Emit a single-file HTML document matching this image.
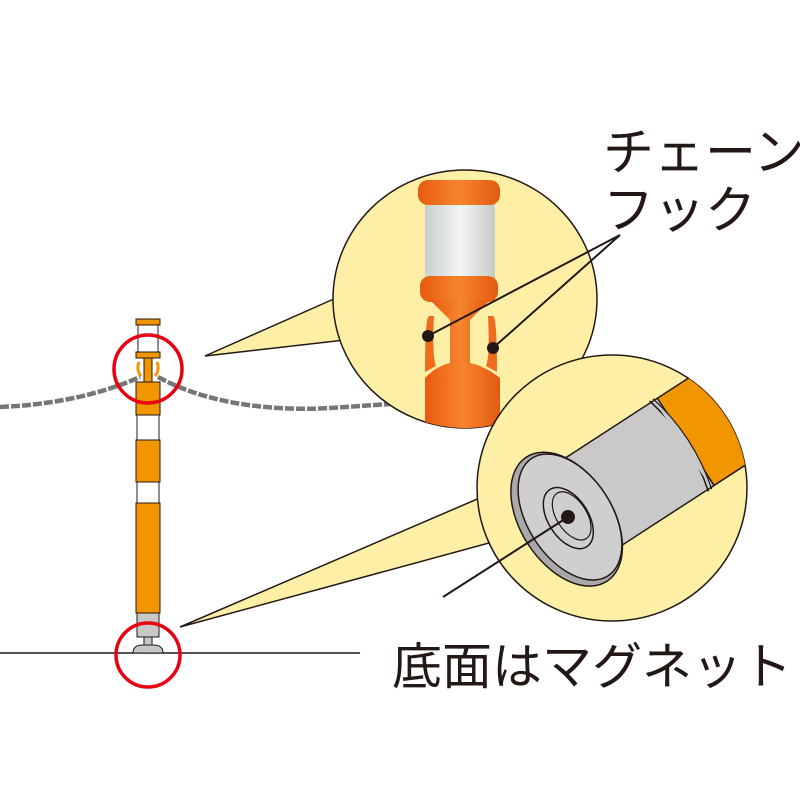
<!DOCTYPE html>
<html><head><meta charset="utf-8"><style>
html,body{margin:0;padding:0;background:#fff;}
svg{display:block;}
text{font-family:"Liberation Sans","Noto Sans CJK JP",sans-serif;fill:#231815;}
</style></head><body>
<svg width="800" height="800" viewBox="0 0 800 800" xmlns="http://www.w3.org/2000/svg">
<defs>
<clipPath id="c1"><ellipse cx="465" cy="299" rx="132" ry="129"/></clipPath>
<clipPath id="c2"><ellipse cx="612" cy="488" rx="135" ry="133"/></clipPath>
<linearGradient id="wg" x1="0" x2="1"><stop offset="0" stop-color="#c9cfcb"/><stop offset="0.5" stop-color="#f4f6f3"/><stop offset="1" stop-color="#c5cbc7"/></linearGradient>
<linearGradient id="og" x1="0" x2="1"><stop offset="0" stop-color="#e85a10"/><stop offset="0.5" stop-color="#f7852e"/><stop offset="1" stop-color="#e35a10"/></linearGradient>
</defs>
<line x1="0" y1="653" x2="360" y2="653" stroke="#231815" stroke-width="1.5"/>
<path d="M0,407 C50,405 100,395 140,377" fill="none" stroke="#767676" stroke-width="4.5" stroke-dasharray="9,2"/>
<path d="M158,377 C200,400 260,412 330,408 L390,404" fill="none" stroke="#767676" stroke-width="4.5" stroke-dasharray="9,2"/>
<path d="M205,356 L336,298 L345,340 Z" fill="#fdf0a6" stroke="#231815" stroke-width="1.5"/>
<ellipse cx="465" cy="299" rx="132" ry="129" fill="#fdf0a6" stroke="#231815" stroke-width="1.5"/>
<path d="M336,298 L345,340" stroke="#fdf0a6" stroke-width="4"/>
<g clip-path="url(#c1)">
 <rect x="425" y="200" width="70" height="90" fill="url(#wg)"/>
 <rect x="418" y="180" width="82" height="25" rx="10" fill="url(#og)"/>
 <rect x="420" y="276" width="78" height="26" rx="10" fill="url(#og)"/>
 <path d="M430,300 L490,300 L470,320 L470,370 L450,370 L450,320 Z" fill="url(#og)"/>
 <path d="M425,372 q0,-55 4,-56 l5,0 q-2,40 2,50 Z" fill="#ef6b1e"/>
 <path d="M497,372 q0,-55 -4,-56 l-5,0 q2,40 -2,50 Z" fill="#ef6b1e"/>
 <path d="M425,378 Q440,362 460,362 Q480,362 500,378 L500,440 L425,440 Z" fill="url(#og)"/>
</g>
<path d="M180,627 L482,497 L500,540 Z" fill="#fdf0a6" stroke="#231815" stroke-width="1.5"/>
<ellipse cx="612" cy="488" rx="135" ry="133" fill="#fdf0a6" stroke="#231815" stroke-width="1.5"/>
<path d="M482,497 L500,540" stroke="#fdf0a6" stroke-width="4"/>
<g clip-path="url(#c2)">
 <g transform="translate(570,517) rotate(-33)">
  <rect x="130" y="-52" width="200" height="104" fill="#f29600" stroke="#231815" stroke-width="1.5"/>
  <rect x="0" y="-52" width="138" height="104" fill="#c9c9c9" stroke="#231815" stroke-width="1.5"/>
  <path d="M130,-54 q14,54 0,108" fill="none" stroke="#231815" stroke-width="1.5"/>
  <path d="M134,-54 q14,54 0,108" fill="#c9c9c9" stroke="#231815" stroke-width="1.2"/>
  <ellipse cx="-4" cy="0" rx="46" ry="74" fill="#a9a9a9" stroke="#231815" stroke-width="1.5"/>
  <ellipse cx="0" cy="0" rx="42" ry="70" fill="#cfcfcf" stroke="#231815" stroke-width="1.5"/>
  <ellipse cx="-2" cy="0" rx="20" ry="34" fill="none" stroke="#231815" stroke-width="1.5"/>
  <ellipse cx="2" cy="0" rx="15" ry="27" fill="none" stroke="#231815" stroke-width="1.2"/>
 </g>
</g>
<line x1="428" y1="336" x2="620" y2="235" stroke="#231815" stroke-width="2"/>
<line x1="493" y1="348" x2="620" y2="235" stroke="#231815" stroke-width="2"/>
<circle cx="428" cy="336" r="6" fill="#231815"/>
<circle cx="493" cy="348" r="6" fill="#231815"/>
<line x1="568" y1="517" x2="443" y2="597" stroke="#231815" stroke-width="2"/>
<circle cx="568" cy="517" r="7" fill="#231815"/>
<g stroke="#231815" stroke-width="1">
 <rect x="136" y="319" width="24" height="6" fill="#f29600"/>
 <rect x="138" y="325" width="20" height="27" fill="#fff"/>
 <rect x="136" y="352" width="24" height="6" fill="#f29600"/>
 <rect x="144" y="358" width="8" height="24" fill="#f29600"/>
 <path d="M139,362 q-3,8 2,14" fill="none" stroke="#f29600" stroke-width="3"/>
 <path d="M157,362 q3,8 -2,14" fill="none" stroke="#f29600" stroke-width="3"/>
 <rect x="136" y="382" width="24" height="33" fill="#f29600"/>
 <rect x="137" y="415" width="22" height="25" fill="#fff"/>
 <rect x="136" y="440" width="24" height="42" fill="#f29600"/>
 <rect x="137" y="482" width="22" height="21" fill="#fff"/>
 <rect x="136" y="503" width="24" height="110" fill="#f29600"/>
 <rect x="137" y="613" width="22" height="24" fill="#c8c8c8"/>
 <rect x="144" y="637" width="8" height="8" fill="#c8c8c8"/>
 <path d="M133,653 q0,-8 10,-8 h10 q10,0 10,8 Z" fill="#c8c8c8"/>
</g>
<circle cx="148" cy="369" r="34" fill="none" stroke="#e60012" stroke-width="3.5"/>
<circle cx="148" cy="655" r="32" fill="none" stroke="#e60012" stroke-width="3.5"/>
<text x="603" y="170" font-size="51">チェーン</text>
<text x="603" y="228" font-size="51">フック</text>
<text x="392" y="684" font-size="50">底面はマグネット</text>
</svg>
</body></html>
